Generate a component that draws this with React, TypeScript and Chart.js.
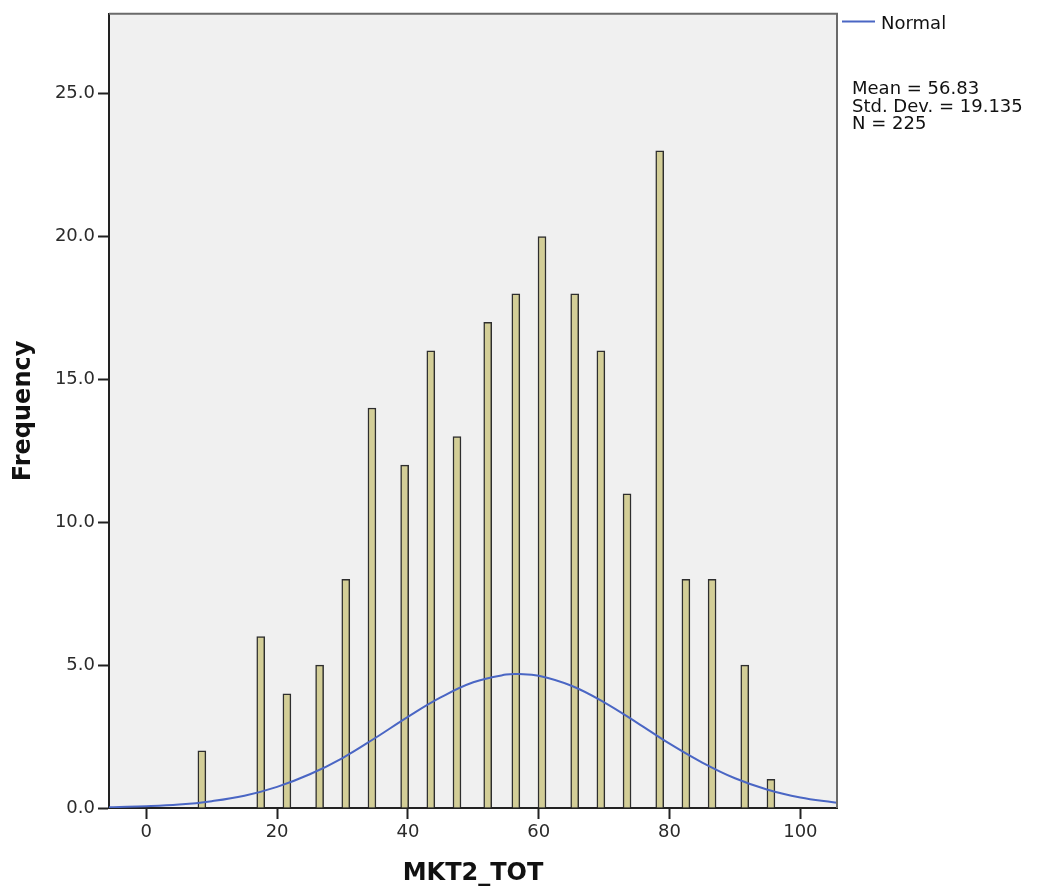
import React, { useEffect, useRef } from "react";
import { Chart, registerables } from "chart.js";

Chart.register(...registerables);

// Histogram bars (bin centre, frequency)
const binCenters = [8.5, 17.5, 21.5, 26.5, 30.5, 34.5, 39.5, 43.5, 47.5, 52.2, 56.5, 60.5, 65.5, 69.5, 73.5, 78.5, 82.5, 86.5, 91.5, 95.5];
const frequencies = [2, 6, 4, 5, 8, 14, 12, 16, 13, 17, 18, 20, 18, 16, 11, 23, 8, 8, 5, 1];

// Normal curve
const curveX = [-6, -5, 0, 5, 10, 15, 20, 25, 30, 35, 40, 45, 50, 55, 57, 60, 65, 70, 75, 80, 85, 90, 95, 100, 105, 106];
const curveY = [0.02, 0.03, 0.06, 0.12, 0.24, 0.43, 0.74, 1.18, 1.75, 2.45, 3.19, 3.87, 4.4, 4.67, 4.69, 4.63, 4.28, 3.7, 2.99, 2.25, 1.59, 1.04, 0.64, 0.37, 0.2, 0.17];

const xTicks = [0, 20, 40, 60, 80, 100];
const yTicks = [0, 5, 10, 15, 20, 25];

const statsLines = ["Mean = 56.83", "Std. Dev. = 19.135", "N = 225"];
const legendLabel = "Normal";
const xTitle = "MKT2_TOT";
const yTitle = "Frequency";

const FONT = "'DejaVu Sans', sans-serif";
const CURVE_COLOR = "#4a66c4";

export default function App() {
  const ref = useRef<HTMLCanvasElement | null>(null);

  useEffect(() => {
    if (!ref.current) return;

    const bgPlugin = {
      id: "plotBg",
      beforeDraw(chart: any) {
        const { ctx, chartArea: a } = chart;
        ctx.save();
        ctx.fillStyle = "#f0f0f0";
        ctx.fillRect(a.left, a.top, a.right - a.left, a.bottom - a.top);
        ctx.restore();
      },
      afterDraw(chart: any) {
        const { ctx, chartArea: a } = chart;
        ctx.save();
        // frame top/right
        ctx.strokeStyle = "#6a6a6a";
        ctx.lineWidth = 2;
        ctx.beginPath();
        ctx.moveTo(a.left, a.top);
        ctx.lineTo(a.right, a.top);
        ctx.lineTo(a.right, a.bottom);
        ctx.stroke();
        // legend
        ctx.strokeStyle = CURVE_COLOR;
        ctx.lineWidth = 2;
        ctx.beginPath();
        ctx.moveTo(842, 21.5);
        ctx.lineTo(875, 21.5);
        ctx.stroke();
        ctx.fillStyle = "#111";
        ctx.font = `18px ${FONT}`;
        ctx.textBaseline = "alphabetic";
        ctx.textAlign = "left";
        ctx.fillText(legendLabel, 881, 29);
        const baselines = [94, 111.5, 129];
        statsLines.forEach((s, i) => ctx.fillText(s, 852, baselines[i]));
        ctx.restore();
      },
    };

    const chart = new Chart(ref.current, {
      type: "bar",
      data: {
        datasets: [
          {
            type: "line",
            label: legendLabel,
            data: curveX.map((x, i) => ({ x, y: curveY[i] })),
            borderColor: CURVE_COLOR,
            borderWidth: 2,
            pointRadius: 0,
            tension: 0.4,
            fill: false,
            order: 0,
            clip: 0,
          } as any,
          {
            type: "bar",
            label: "Frequency",
            data: binCenters.map((x, i) => ({ x, y: frequencies[i] })),
            backgroundColor: "#d3ce97",
            borderColor: "#2e2e2e",
            borderWidth: 1.5,
            borderSkipped: "bottom",
            barThickness: 8,
            order: 1,
          } as any,
        ],
      },
      options: {
        responsive: false,
        animation: false,
        layout: { padding: { left: 0, top: 10, right: 202, bottom: 0 } },
        plugins: {
          legend: { display: false },
          tooltip: { enabled: false },
        },
        scales: {
          x: {
            type: "linear",
            offset: false,
            min: -5.7,
            max: 105.6,
            afterBuildTicks: (s: any) => {
              s.ticks = xTicks.map((v) => ({ value: v }));
            },
            afterFit: (s: any) => {
              s.height = 88;
            },
            grid: {
              display: true,
              offset: false,
              drawOnChartArea: false,
              drawTicks: true,
              tickLength: 11,
              tickWidth: 2,
              tickColor: "#222",
            },
            border: { display: true, color: "#222", width: 2 },
            ticks: {
              color: "#2a2a2a",
              font: { family: FONT, size: 18 },
              padding: 3,
              maxRotation: 0,
              callback: (v: any) => String(v),
            },
            title: {
              display: true,
              text: xTitle,
              color: "#111",
              font: { family: FONT, size: 24, weight: "bold" },
              padding: { top: 0, bottom: 8 },
            },
          },
          y: {
            type: "linear",
            min: 0,
            max: 27.8,
            afterBuildTicks: (s: any) => {
              s.ticks = yTicks.map((v) => ({ value: v }));
            },
            afterFit: (s: any) => {
              s.width = 109;
            },
            grid: {
              display: true,
              drawOnChartArea: false,
              drawTicks: true,
              tickLength: 11,
              tickWidth: 2,
              tickColor: "#222",
            },
            border: { display: true, color: "#222", width: 2 },
            ticks: {
              color: "#2a2a2a",
              font: { family: FONT, size: 18 },
              padding: 3,
              callback: (v: any) => Number(v).toFixed(1),
            },
            title: {
              display: true,
              text: yTitle,
              color: "#111",
              font: { family: FONT, size: 24, weight: "bold" },
              padding: { top: 9, bottom: 0 },
            },
          },
        },
      } as any,
      plugins: [bgPlugin],
    });

    return () => chart.destroy();
  }, []);

  return (
    <div style={{ position: "absolute", left: 0, top: 0, width: 1039, height: 896, background: "#fff" }}>
      <canvas ref={ref} width={1039} height={896} style={{ display: "block" }} />
    </div>
  );
}
